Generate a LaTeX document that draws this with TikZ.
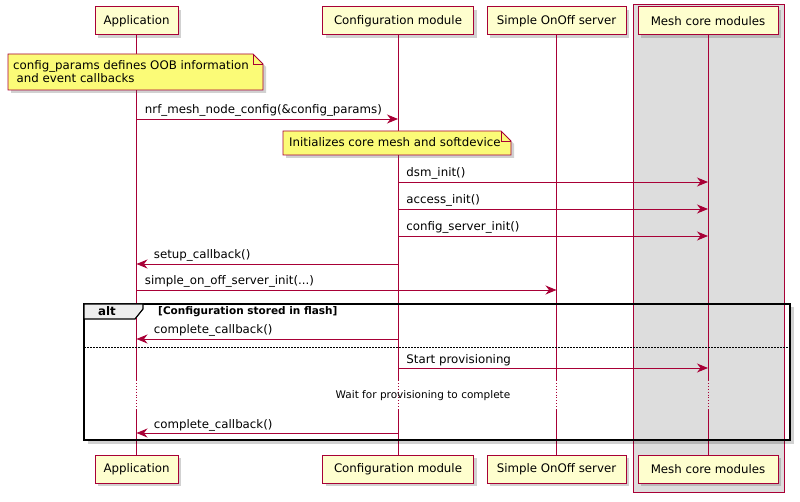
\documentclass[tikz,border=0pt]{standalone}
\usepackage{fontspec}
\setmainfont{DejaVu Sans}
\usetikzlibrary{arrows.meta,shadows}
\definecolor{lineRed}{HTML}{A80036}
\definecolor{boxFill}{HTML}{FEFECE}
\definecolor{noteFill}{HTML}{FBFB77}
\definecolor{groupFill}{HTML}{DDDDDD}
\definecolor{tabFill}{HTML}{EEEEEE}
\newcommand\msgfont{\fontsize{11.8}{13.5}\selectfont}
\newcommand\smallfont{\fontsize{10.5}{12}\selectfont}
\begin{document}
\begin{tikzpicture}[x=1pt,y=-1pt,
  shade/.style={drop shadow={shadow xshift=3pt,shadow yshift=-3pt,opacity=0.3,fill=black!60}},
  participant/.style={draw=lineRed,fill=boxFill,line width=1pt,minimum height=28pt,inner sep=0pt,font=\msgfont,shade},
  lifeline/.style={draw=lineRed,line width=0.9pt},
  msg/.style={draw=lineRed,line width=0.9pt,-{Stealth[length=11pt,width=9pt,inset=3.5pt]}},
  msgtext/.style={anchor=base west,inner sep=0pt,yshift=5pt,font=\msgfont},
  note/.style={draw=lineRed,fill=noteFill,line width=0.9pt,shade}]%
\useasboundingbox (0,0) rectangle (800,502);%
%
% group box round the core modules
\draw[draw=lineRed,fill=groupFill,line width=0.9pt] (633,4) rectangle (784.5,492);%
%
% participants, top and bottom
\node[participant,minimum width=83pt] (topApp) at (136.5,21) {Application};%
\node[participant,minimum width=151pt] (topConf) at (398,21) {Configuration module};%
\node[participant,minimum width=139pt] (topSrv) at (556.5,21) {Simple OnOff server};%
\node[participant,minimum width=140pt] (topCore) at (708,21) {Mesh core modules};%
\node[participant,minimum width=83pt] (botApp) at (136.5,469) {Application};%
\node[participant,minimum width=151pt] (botConf) at (398,469) {Configuration module};%
\node[participant,minimum width=139pt] (botSrv) at (556.5,469) {Simple OnOff server};%
\node[participant,minimum width=140pt] (botCore) at (708,469) {Mesh core modules};%
%
% lifelines, dotted while waiting
\foreach \p in {App,Conf,Srv,Core}{%
  \draw[lifeline] (top\p.south) -- (top\p |- 0,380);%
  \draw[lifeline,dotted] (top\p |- 0,380) -- (top\p |- 0,410);%
  \draw[lifeline] (top\p |- 0,410) -- (bot\p.north);%
}%
%
% note on Application
\def\noteL{8};%
\def\noteR{263};%
\def\noteT{54};%
\def\noteB{90};%
\draw[note] (\noteL,\noteT) -- (\noteR-10,\noteT) -- (\noteR,\noteT+10) -- (\noteR,\noteB) -- (\noteL,\noteB) -- cycle;%
\draw[lineRed,line width=0.9pt] (\noteR-10,\noteT) -- (\noteR-10,\noteT+10) -- (\noteR,\noteT+10);%
\node[anchor=north west,inner sep=0pt,align=left,font=\msgfont] (note1) at (\noteL+5,\noteT+6) {config\_params defines OOB information\\\hspace*{3.5pt}and event callbacks};%
%
% note on Configuration module
\def\noteL{283};%
\def\noteR{511};%
\def\noteT{131};%
\def\noteB{155};%
\draw[note] (\noteL,\noteT) -- (\noteR-10,\noteT) -- (\noteR,\noteT+10) -- (\noteR,\noteB) -- (\noteL,\noteB) -- cycle;%
\draw[lineRed,line width=0.9pt] (\noteR-10,\noteT) -- (\noteR-10,\noteT+10) -- (\noteR,\noteT+10);%
\node[anchor=base west,inner sep=0pt,font=\msgfont] (note2) at (\noteL+6,147) {Initializes core mesh and softdevice};%
%
% messages
\draw[msg] (topApp |- 0,119) -- (topConf |- 0,119) node[msgtext,at start,xshift=8pt] (m1) {nrf\_mesh\_node\_config(\&config\_params)};%
\draw[msg] (topConf |- 0,182) -- (topCore |- 0,182) node[msgtext,at start,xshift=8pt] (m2) {dsm\_init()};%
\draw[msg] (topConf |- 0,209) -- (topCore |- 0,209) node[msgtext,at start,xshift=8pt] (m3) {access\_init()};%
\draw[msg] (topConf |- 0,236) -- (topCore |- 0,236) node[msgtext,at start,xshift=8pt] (m4) {config\_server\_init()};%
\draw[msg] (topConf |- 0,264) -- (topApp |- 0,264) node[msgtext,at end,xshift=17pt] (m5) {setup\_callback()};%
\draw[msg] (topApp |- 0,290) -- (topSrv |- 0,290) node[msgtext,at start,xshift=8pt] (m6) {simple\_on\_off\_server\_init(...)};%
%
% alt frame
\draw[black,opacity=0.18,line width=3pt] (792.5,307.5) -- (792.5,442.5) -- (87.5,442.5);%
\draw[black,line width=1.5pt] (84,304) rectangle (790,440);%
\filldraw[fill=tabFill,draw=black,line width=1.2pt] (84,304) -- (143,304) -- (143,309) -- (135,319) -- (84,319) -- cycle;%
\node[anchor=base,inner sep=0pt,font=\msgfont\bfseries] (alt) at (107,316) {alt};%
\node[anchor=base west,inner sep=0pt,font=\smallfont\bfseries] (cond) at (158,315) {[Configuration stored in flash]};%
\draw[black,line width=0.8pt,dash pattern=on 1.5pt off 1.5pt] (84,347) -- (790,347);%
%
\draw[msg] (topConf |- 0,339) -- (topApp |- 0,339) node[msgtext,at end,xshift=17pt] (m7) {complete\_callback()};%
\draw[msg] (topConf |- 0,368) -- (topCore |- 0,368) node[msgtext,at start,xshift=8pt] (m8) {Start provisioning};%
\node[anchor=base,inner sep=0pt,font=\smallfont] (wait) at (423,398) {Wait for provisioning to complete};%
\draw[msg] (topConf |- 0,433) -- (topApp |- 0,433) node[msgtext,at end,xshift=17pt] (m9) {complete\_callback()};%
%
\end{tikzpicture}
\end{document}
